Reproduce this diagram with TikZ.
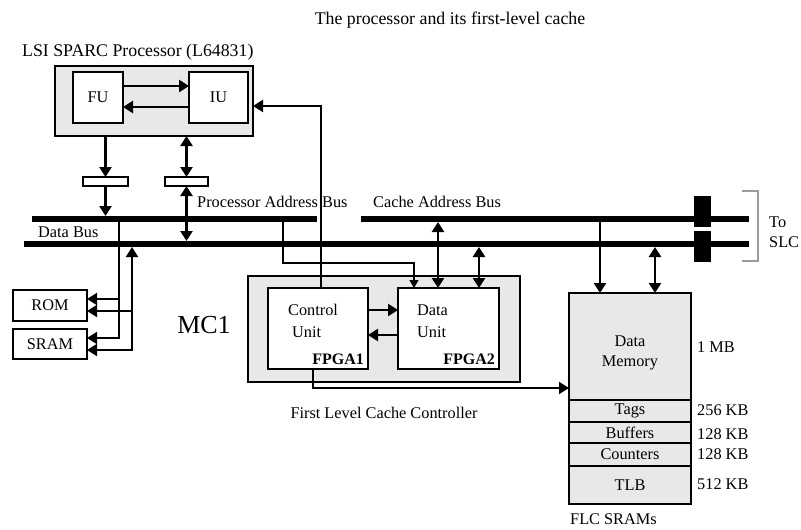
\documentclass[tikz,border=0pt]{standalone}
\usepackage{fontspec}
\setmainfont{Liberation Serif}
\usepackage{tikz}
\usetikzlibrary{shapes}
\usetikzlibrary{arrows.meta}
\definecolor{boxgray}{RGB}{232,232,232}
\definecolor{slcgray}{RGB}{155,155,155}
\tikzset{
  txt/.style = {inner sep=0pt, font=\fontsize{16.3}{20}\selectfont},
  big_txt/.style = {inner sep=0pt, font=\fontsize{26}{30}\selectfont},
  head_txt/.style = {inner sep=0pt, font=\fontsize{17.8}{22}\selectfont},
  fpga_txt/.style = {txt, font=\fontsize{16}{20}\selectfont\bfseries},
  unit_box/.style = {draw=black, fill=white, line width=2pt,
    inner sep=0pt, outer sep=0pt, font=\fontsize{16.3}{20}\selectfont},% boite blanche
  gray_box/.style = {unit_box, fill=boxgray},% boite grise
  buf_box/.style = {unit_box, line width=1.5pt},% tampon
  bus/.style = {line width=6pt},% bus epais
  slc_block/.style = {fill=black, inner sep=0pt, outer sep=0pt,
    minimum width=17pt, minimum height=31pt},
  arr/.style = {line width=2.5pt, -{Triangle[length=10pt,width=12pt]}},
  darr/.style = {line width=2.5pt,
    {Triangle[length=10pt,width=12pt]}-{Triangle[length=10pt,width=12pt]}},
  thin_arr/.style = {line width=1.2pt, -{Triangle[length=8pt,width=9pt]}}
}
\begin{document}
\begin{tikzpicture}[x=1pt, y=-1pt]
  \useasboundingbox (0,0) rectangle (801,530);
  \node[head_txt] (title) at (450,20) {The processor and its first-level cache};

  % processeur
  \node[head_txt, anchor=west] (proc_lbl) at (22,52) {LSI SPARC Processor (L64831)};
  \node[gray_box, minimum width=198pt, minimum height=70pt] (proc) at (154,101) {};
  \node[unit_box, minimum width=50pt, minimum height=51pt] (fu) at (98,97) {FU};
  \node[unit_box, minimum width=59pt, minimum height=51pt] (iu) at (218.5,97) {IU};
  \node[buf_box, minimum width=45pt, minimum height=9pt] (buf1) at (105.5,181.5) {};
  \node[buf_box, minimum width=43pt, minimum height=9pt] (buf2) at (186.5,181.5) {};

  % bus
  \coordinate (pab_w) at (32,219);
  \coordinate (pab_e) at (317,219);
  \coordinate (cab_w) at (361,219);
  \coordinate (cab_e) at (749,219);
  \coordinate (db_w) at (24,244);
  \coordinate (db_e) at (749,244);
  \coordinate (pab_top) at (0,216);
  \coordinate (pab_bot) at (0,222);
  \coordinate (db_top) at (0,241);
  \coordinate (db_bot) at (0,247);
  \draw[bus] (pab_w) -- (pab_e);
  \draw[bus] (cab_w) -- (cab_e);
  \draw[bus] (db_w) -- (db_e);
  \node[txt, anchor=west] (db_lbl) at (38,232) {Data Bus};
  \node[txt, anchor=west] (pab_lbl) at (197,202) {Processor Address Bus};
  \node[txt, anchor=west] (cab_lbl) at (373,202) {Cache Address Bus};
  \node[slc_block] (blk1) at (702.5,211.5) {};
  \node[slc_block] (blk2) at (702.5,246.5) {};
  \draw[slcgray, line width=2pt] (742,191) -- (758,191) -- (758,261) -- (742,261);
  \node[txt, anchor=west, align=left] (slc_lbl) at (769,232) {To\\SLC};

  % ROM et SRAM
  \node[unit_box, minimum width=74pt, minimum height=31pt] (rom) at (50,305.5) {ROM};
  \node[unit_box, minimum width=74pt, minimum height=30pt] (sram) at (50,344) {SRAM};

  % MC1
  \node[gray_box, line width=2.5pt, minimum width=272pt, minimum height=106pt] (mc1) at (384,329) {};
  \node[big_txt] (mc1_lbl) at (204,325) {MC1};
  \node[unit_box, line width=2.5pt, minimum width=100pt, minimum height=81pt] (ctrl) at (318,328.5) {};
  \node[unit_box, line width=2.5pt, minimum width=101pt, minimum height=81pt] (du) at (448.5,328.5) {};
  \node[txt, anchor=west] (ctrl_t1) at (288,310) {Control};
  \node[txt, anchor=west] (ctrl_t2) at (292,332) {Unit};
  \node[txt, anchor=west] (du_t1) at (417,310) {Data};
  \node[txt, anchor=west] (du_t2) at (417,332) {Unit};
  \node[fpga_txt, anchor=south east] (fpga1) at ([xshift=-4pt,yshift=4pt]ctrl.south east) {FPGA1};
  \node[fpga_txt, anchor=south east] (fpga2) at ([xshift=-4pt,yshift=4pt]du.south east) {FPGA2};
  \node[txt] (flcc_lbl) at (384,413) {First Level Cache Controller};

  % SRAMs du FLC
  \node[gray_box, line width=2.5pt, minimum width=122pt, minimum height=211pt] (mem) at (630,398.5) {};
  \foreach \y in {400,422,443,466}
    \draw[line width=1.5pt] (mem.west |- 0,\y) -- (mem.east |- 0,\y);
  \node[txt, align=center] (mem_t) at (630,353) {Data\\Memory};
  \node[txt] (tags_t) at (630,411) {Tags};
  \node[txt] (buf_t) at (630,432.5) {Buffers};
  \node[txt] (cnt_t) at (630,454.5) {Counters};
  \node[txt] (tlb_t) at (630,485) {TLB};
  \node[txt, anchor=west] (sz1) at (697,347) {1 MB};
  \node[txt, anchor=west] (sz2) at (697,410) {256 KB};
  \node[txt, anchor=west] (sz3) at (697,434) {128 KB};
  \node[txt, anchor=west] (sz4) at (697,454) {128 KB};
  \node[txt, anchor=west] (sz5) at (697,484) {512 KB};
  \node[txt, anchor=west] (flc_lbl) at (570,519) {FLC SRAMs};

  % connexions
  \draw[arr] ([yshift=11pt]fu.east) -- ([yshift=11pt]iu.west);
  \draw[arr] ([yshift=-10pt]iu.west) -- ([yshift=-10pt]fu.east);
  \draw[arr] (proc.south -| buf1) -- (buf1.north);
  \draw[arr] (buf1.south) -- (buf1 |- pab_top);
  \draw[darr] (proc.south -| buf2) -- (buf2.north);
  \draw[darr] (buf2.south) -- (buf2 |- db_top);
  \coordinate (cu_tap) at ([xshift=3pt]ctrl.north);
  \draw[arr, line width=2pt] (cu_tap) |- ([yshift=-5pt]proc.east);
  \coordinate (pab_tap) at (283,219);
  \draw[thin_arr] (pab_tap) -- ++(0,44) -| ([xshift=-34.5pt]du.north);
  \draw[darr] ([xshift=-10.5pt]du.north) -- ([xshift=-10.5pt]du.north |- pab_bot);
  \draw[darr] ([xshift=30.5pt]du.north) -- ([xshift=30.5pt]du.north |- db_bot);
  \draw[arr] (ctrl.east |- 0,310) -- (du.west |- 0,310);
  \draw[arr] (du.west |- 0,335) -- (ctrl.east |- 0,335);
  \draw[arr, line width=2pt] ([xshift=-5pt]ctrl.south) |- ([yshift=10.5pt]mem.west);
  \draw[arr] ([xshift=-30pt]mem.north |- pab_bot) -- ([xshift=-30pt]mem.north);
  \draw[darr] ([xshift=25pt]mem.north |- db_bot) -- ([xshift=25pt]mem.north);
  \coordinate (addr_tap) at (119,222);
  \coordinate (data_tap) at (132,247);
  \draw[arr, line width=2pt] (addr_tap) |- ([yshift=6pt]sram.east);
  \draw[arr, line width=2pt] ([yshift=6.5pt]rom.east -| addr_tap) -- ([yshift=6.5pt]rom.east);
  \draw[darr, line width=2pt] (data_tap) |- ([yshift=-6pt]sram.east);
  \draw[arr, line width=2pt] ([yshift=-5.5pt]rom.east -| data_tap) -- ([yshift=-5.5pt]rom.east);
\end{tikzpicture}
\end{document}
